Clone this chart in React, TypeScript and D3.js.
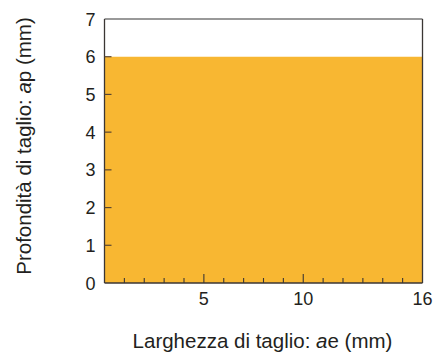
import React from "react";
import * as d3 from "d3";

const xDomain = [0, 16];
const yDomain = [0, 7];
const areaX = [0, 16];
const areaY = [6, 6];
const yTicks = [0, 1, 2, 3, 4, 5, 6, 7];
const xMajorTicks = [5, 10, 16];
const xMinorTicks = [1, 2, 3, 4, 6, 7, 8, 9, 11, 12, 13, 14, 15];

export default function App() {
  const W = 433, H = 352;
  const left = 104.5, right = 422.5, top = 19, bottom = 283;
  const x = d3.scaleLinear().domain(xDomain).range([left, right]);
  const y = d3.scaleLinear().domain(yDomain).range([bottom, top]);
  const pts: [number, number][] = areaX.map((v, i) => [v, areaY[i]]);
  const area = d3
    .area<[number, number]>()
    .x((d) => x(d[0]))
    .y0(y(0))
    .y1((d) => y(d[1]))(pts);
  const dark = "#3b3634";
  const font = "Liberation Sans, Arial, Helvetica, sans-serif";
  return (
    <svg width={W} height={H} style={{ position: "absolute", left: 0, top: 0 }} fontFamily={font}>
      <rect width={W} height={H} fill="#fff" />
      <path d={area || ""} fill="#F8B732" />
      <line x1={left} x2={right} y1={top} y2={top} stroke="#777" strokeWidth={1.3} />
      <line x1={right} x2={right} y1={top} y2={bottom} stroke={dark} strokeWidth={1.3} />
      <line x1={left} x2={left} y1={top} y2={bottom} stroke={dark} strokeWidth={1.3} />
      <line x1={left} x2={right} y1={bottom} y2={bottom} stroke={dark} strokeWidth={1.3} />
      {yTicks.map((t) => (
        <g key={"y" + t}>
          {t > 0 && t < 7 && (
            <line x1={left} x2={left + 7} y1={y(t)} y2={y(t)} stroke="#5a4630" strokeWidth={1.2} />
          )}
          <text x={95.5} y={y(t) + 6.5} textAnchor="end" fontSize={18} fill="#231f20">
            {t}
          </text>
        </g>
      ))}
      {xMinorTicks.map((t) => (
        <line key={"m" + t} x1={x(t)} x2={x(t)} y1={bottom} y2={bottom - 5} stroke={dark} strokeWidth={1.1} />
      ))}
      {xMajorTicks.map((t) => (
        <g key={"x" + t}>
          {t < 16 && (
            <line x1={x(t)} x2={x(t)} y1={bottom} y2={bottom - 9} stroke={dark} strokeWidth={1.1} />
          )}
          <text x={x(t)} y={304.5} textAnchor="middle" fontSize={18} fill="#231f20">
            {t}
          </text>
        </g>
      ))}
      <text x={262.5} y={348} textAnchor="middle" fontSize={20.5} fill="#231f20">
        Larghezza di taglio: <tspan fontStyle="italic">a</tspan>e (mm)
      </text>
      <text
        transform={`translate(31, ${146}) rotate(-90)`}
        textAnchor="middle"
        fontSize={20.5}
        fill="#231f20"
      >
        Profondità di taglio: <tspan fontStyle="italic">a</tspan>p (mm)
      </text>
    </svg>
  );
}
